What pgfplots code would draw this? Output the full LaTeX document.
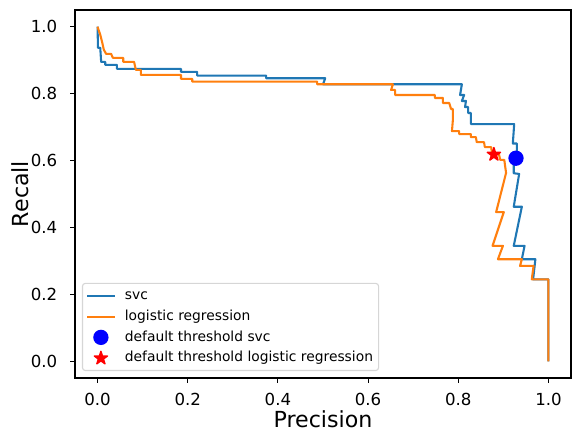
\documentclass[border=0pt]{standalone}
\usepackage{fontspec}
\setmainfont{DejaVu Sans}
\usepackage{pgfplots}
\pgfplotsset{compat=1.18}

\definecolor{C0}{HTML}{1F77B4}
\definecolor{C1}{HTML}{FF7F0E}

\pgfplotsset{
  mylinelegend/.style={legend image code/.code={\draw[##1] (0bp,0bp) -- (20bp,0bp);}},
  mymarklegend/.style={legend image code/.code={\path[draw=none,fill=none] (0bp,0bp) -- (20bp,0bp); \draw[##1] plot[only marks] coordinates {(10bp,0bp)};}},
}

\pgfdeclareplotmark{fstar}{%
  \pgfpathmoveto{\pgfpointpolar{90}{\pgfplotmarksize}}%
  \pgfpathlineto{\pgfpointpolar{126}{0.381966\pgfplotmarksize}}%
  \pgfpathlineto{\pgfpointpolar{162}{\pgfplotmarksize}}%
  \pgfpathlineto{\pgfpointpolar{198}{0.381966\pgfplotmarksize}}%
  \pgfpathlineto{\pgfpointpolar{234}{\pgfplotmarksize}}%
  \pgfpathlineto{\pgfpointpolar{270}{0.381966\pgfplotmarksize}}%
  \pgfpathlineto{\pgfpointpolar{306}{\pgfplotmarksize}}%
  \pgfpathlineto{\pgfpointpolar{342}{0.381966\pgfplotmarksize}}%
  \pgfpathlineto{\pgfpointpolar{18}{\pgfplotmarksize}}%
  \pgfpathlineto{\pgfpointpolar{54}{0.381966\pgfplotmarksize}}%
  \pgfpathclose
  \pgfusepathqfillstroke
}

\begin{document}
\begin{tikzpicture}
\begin{axis}[
  at={(0,0)}, anchor=south west,
  scale only axis,
  width=357.12bp, height=264.96bp,
  xmin=-0.05, xmax=1.05, ymin=-0.05, ymax=1.05,
  xtick={0,0.2,0.4,0.6,0.8,1.0},
  ytick={0,0.2,0.4,0.6,0.8,1.0},
  /pgf/number format/.cd, fixed, fixed zerofill, precision=1, assume math mode=true,
  /pgfplots/.cd,
  tick align=outside,
  major tick length=3.5bp,
  tick style={black, line width=0.8bp},
  axis line style={line width=0.8bp},
  xtick pos=bottom, ytick pos=left,
  xticklabel style={font=\fontsize{12}{14}\selectfont, inner sep=0pt, anchor=base, yshift=-16.3bp},
  yticklabel style={font=\fontsize{12}{14}\selectfont, inner sep=0pt, anchor=east, xshift=-9.1bp},
  xlabel={Precision}, ylabel={Recall},
  xlabel style={font=\fontsize{16}{19}\selectfont, at={(axis description cs:0.5,-0.1332)}, anchor=base, inner sep=0pt},
  ylabel style={font=\fontsize{16}{19}\selectfont, at={(axis description cs:-0.094,0.5)}, anchor=base, inner sep=0pt},
  legend cell align=left,
  legend style={at={(0,0)}, anchor=south west, xshift=5bp, yshift=5bp,
    draw=black!16, line width=0.8bp, fill=white, rounded corners=2bp, inner sep=2.5bp,
    font=\fontsize{10}{12}\selectfont, row sep=2.3bp,
    nodes={inner sep=1.5bp, text height=7.5bp, text depth=2.2bp},
    /tikz/every odd column/.style={column sep=5bp}},
]
\addplot[C0, line width=1.5bp, line join=round, mylinelegend] coordinates {
(0.000,1.000) (0.001,0.937) (0.006,0.937) (0.008,0.895) (0.017,0.895)
(0.017,0.886) (0.043,0.886) (0.043,0.874) (0.185,0.874) (0.185,0.865)
(0.221,0.865) (0.221,0.854) (0.374,0.854) (0.374,0.846) (0.505,0.846)
(0.500,0.828) (0.808,0.828) (0.804,0.796) (0.813,0.796) (0.808,0.778)
(0.817,0.778) (0.815,0.760) (0.822,0.760) (0.822,0.742) (0.828,0.742)
(0.828,0.709) (0.924,0.709) (0.921,0.651) (0.930,0.651) (0.930,0.608)
(0.923,0.587) (0.923,0.562) (0.935,0.560) (0.923,0.462) (0.941,0.462)
(0.923,0.345) (0.947,0.345) (0.941,0.305) (0.971,0.305) (0.966,0.245)
(1.000,0.245) (1.000,0.000)
};
\addlegendentry{svc}
\addplot[C1, line width=1.5bp, line join=round, mylinelegend] coordinates {
(0.000,1.000) (0.006,0.976) (0.010,0.955) (0.014,0.931) (0.019,0.919)
(0.030,0.919) (0.034,0.907) (0.057,0.907) (0.057,0.895) (0.081,0.895)
(0.085,0.871) (0.096,0.871) (0.096,0.856) (0.185,0.856) (0.185,0.844)
(0.210,0.844) (0.210,0.836) (0.487,0.836) (0.487,0.828) (0.655,0.828)
(0.651,0.811) (0.660,0.811) (0.660,0.796) (0.748,0.796) (0.748,0.787)
(0.766,0.787) (0.766,0.772) (0.780,0.772) (0.784,0.754) (0.788,0.754)
(0.788,0.721) (0.786,0.688) (0.802,0.688) (0.802,0.679) (0.828,0.679)
(0.828,0.670) (0.839,0.670) (0.841,0.655) (0.857,0.655) (0.859,0.640)
(0.873,0.640) (0.875,0.620) (0.890,0.620) (0.893,0.602) (0.902,0.602)
(0.906,0.563) (0.884,0.446) (0.901,0.446) (0.876,0.345) (0.899,0.345)
(0.888,0.305) (0.941,0.305) (0.937,0.285) (0.967,0.285) (0.963,0.245)
(1.000,0.245) (1.000,0.000)
};
\addlegendentry{logistic regression}
\addplot[only marks, mark=*, mark size=5bp, blue, mark options={line width=1bp}, mymarklegend] coordinates {(0.928,0.607)};
\addlegendentry{default threshold svc}
\addplot[only marks, mark=fstar, mark size=5bp, red, mark options={line width=1bp, line join=round}, mymarklegend] coordinates {(0.879,0.618)};
\addlegendentry{default threshold logistic regression}
\end{axis}
\pgfresetboundingbox
\useasboundingbox (-54bp,-46.08bp) rectangle (363.6bp,272.16bp);
\end{tikzpicture}
\end{document}
